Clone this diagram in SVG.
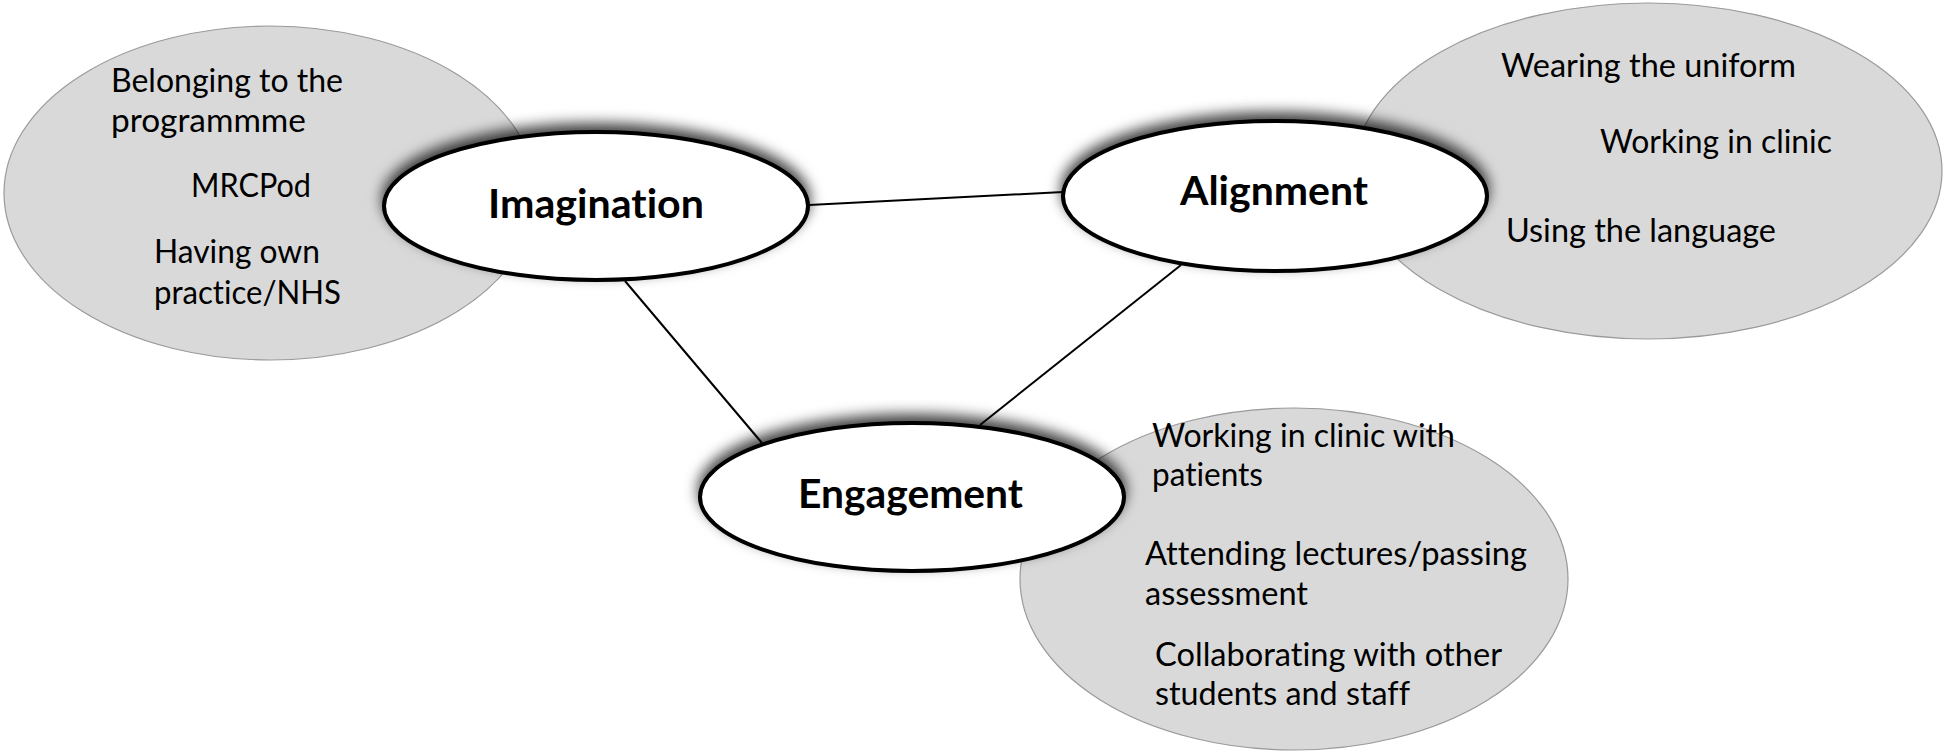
<svg xmlns="http://www.w3.org/2000/svg" width="1945" height="755" viewBox="0 0 1945 755">
<style>
.bg{fill:#d9d9d9;stroke:#9a9a9a;stroke-width:1.2}
.node{fill:#ffffff;stroke:#000000;stroke-width:4;filter:url(#sh)}
.t{font-family:Lato,"Open Sans","Liberation Sans",sans-serif;font-size:32px;fill:#000;font-variant-ligatures:none}
.b{font-family:Lato,"Open Sans","Liberation Sans",sans-serif;font-size:40px;font-weight:bold;fill:#000;font-variant-ligatures:none}
.con line{stroke:#000;stroke-width:2}
</style>
<defs>
<filter id="sh" x="-20%" y="-40%" width="140%" height="180%">
<feDropShadow dx="0" dy="-7" stdDeviation="7" flood-color="#000" flood-opacity="0.75"/>
</filter>
</defs>
<rect width="1945" height="755" fill="#ffffff"/>
<g id="imagination-cluster">
<ellipse class="bg" cx="270" cy="193" rx="266" ry="167"/>
<text class="t" x="111" y="92" textLength="232" lengthAdjust="spacingAndGlyphs">Belonging to the</text>
<text class="t" x="111" y="132" textLength="195" lengthAdjust="spacingAndGlyphs">programmme</text>
<text class="t" x="191" y="197" textLength="120" lengthAdjust="spacingAndGlyphs">MRCPod</text>
<text class="t" x="154" y="263" textLength="166" lengthAdjust="spacingAndGlyphs">Having own</text>
<text class="t" x="154" y="304" textLength="187" lengthAdjust="spacingAndGlyphs">practice/NHS</text>
</g>
<g id="alignment-cluster">
<ellipse class="bg" cx="1648" cy="171" rx="294" ry="168"/>
<text class="t" x="1501" y="77" textLength="295" lengthAdjust="spacingAndGlyphs">Wearing the uniform</text>
<text class="t" x="1600" y="153" textLength="232" lengthAdjust="spacingAndGlyphs">Working in clinic</text>
<text class="t" x="1506" y="242" textLength="270" lengthAdjust="spacingAndGlyphs">Using the language</text>
</g>
<g id="engagement-cluster">
<ellipse class="bg" cx="1294" cy="579" rx="274" ry="171"/>
<text class="t" x="1152" y="447" textLength="303" lengthAdjust="spacingAndGlyphs">Working in clinic with</text>
<text class="t" x="1152" y="486" textLength="111" lengthAdjust="spacingAndGlyphs">patients</text>
<text class="t" x="1145" y="565" textLength="382" lengthAdjust="spacingAndGlyphs">Attending lectures/passing</text>
<text class="t" x="1145" y="605" textLength="163" lengthAdjust="spacingAndGlyphs">assessment</text>
<text class="t" x="1155" y="666" textLength="347" lengthAdjust="spacingAndGlyphs">Collaborating with other</text>
<text class="t" x="1155" y="705" textLength="255" lengthAdjust="spacingAndGlyphs">students and staff</text>
</g>
<g id="connectors" class="con">
<line x1="809" y1="205" x2="1063" y2="192"/>
<line x1="625" y1="281" x2="762" y2="443"/>
<line x1="1181" y1="265" x2="980" y2="425"/>
</g>
<g id="imagination">
<ellipse class="node" cx="596" cy="206" rx="212" ry="74"/>
<text class="b" x="488" y="218" textLength="216" lengthAdjust="spacingAndGlyphs">Imagination</text>
</g>
<g id="alignment">
<ellipse class="node" cx="1275" cy="196" rx="212" ry="75"/>
<text class="b" x="1180" y="205" textLength="188" lengthAdjust="spacingAndGlyphs">Alignment</text>
</g>
<g id="engagement">
<ellipse class="node" cx="912" cy="497" rx="212" ry="74"/>
<text class="b" x="798" y="508" textLength="225" lengthAdjust="spacingAndGlyphs">Engagement</text>
</g>
</svg>
